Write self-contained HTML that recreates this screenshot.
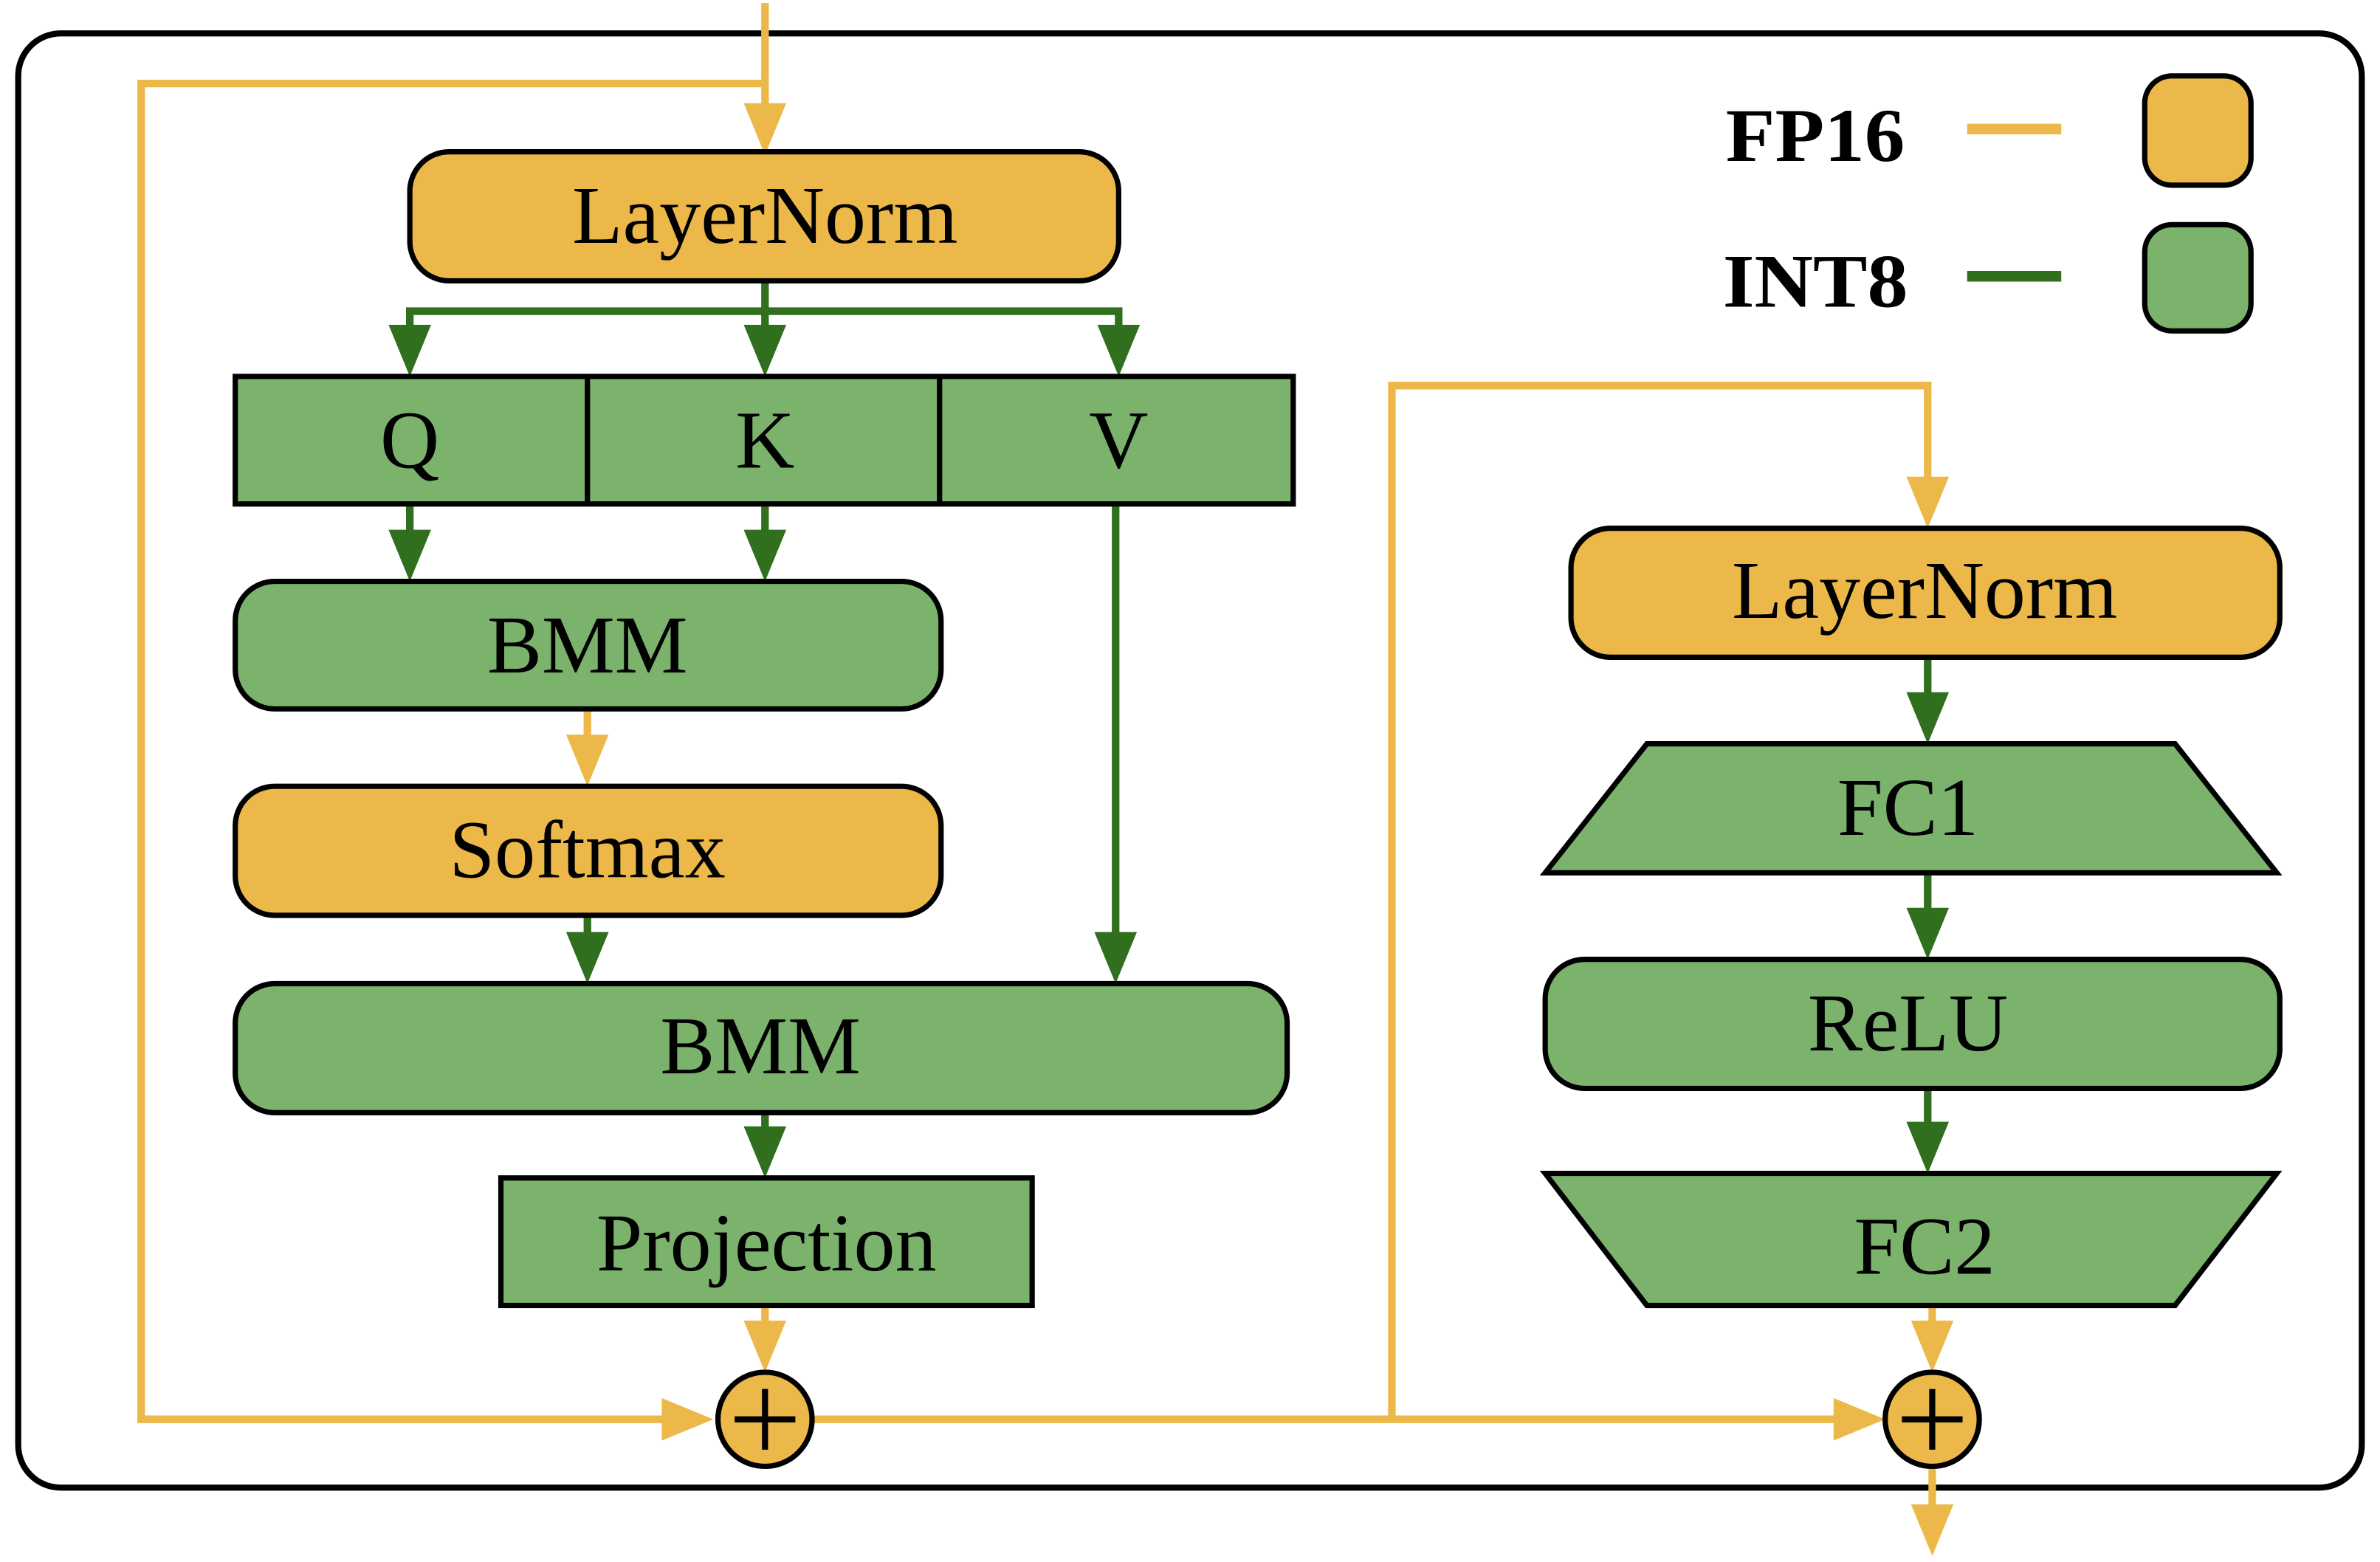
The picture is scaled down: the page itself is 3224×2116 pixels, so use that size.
<!DOCTYPE html>
<html><head><style>html,body{margin:0;padding:0;background:#fff}svg{display:block}</style></head>
<body>
<svg width="3224" height="2116" viewBox="0 0 1568 1029" preserveAspectRatio="none" xmlns="http://www.w3.org/2000/svg" font-family="Liberation Serif, serif">
<rect x="0" y="0" width="1568" height="1029" fill="#fff"/>
<rect x="12" y="22" width="1544" height="958" rx="28" fill="none" stroke="#000" stroke-width="4"/>
<g fill="none">
<g stroke="#EDB84A" stroke-width="5">
<polyline points="504,2 504,70"/>
<polyline points="504,55 93,55 93,935 438,935"/>
<polyline points="387,467 387,486"/>
<polyline points="535,935 1210,935"/>
<polyline points="917,935 917,254 1270,254 1270,316"/>
<polyline points="504,860 504,873"/>
<polyline points="1273,860 1273,873"/>
<polyline points="1273,966 1273,993"/>
<line x1="1296" y1="85" x2="1358" y2="85" stroke-width="7"/>
</g>
<g stroke="#2F6F1E" stroke-width="5">
<polyline points="504,185 504,216"/>
<polyline points="270,216 270,205 737,205 737,216"/>
<polyline points="270,332 270,351"/>
<polyline points="504,332 504,351"/>
<polyline points="387,603 387,616"/>
<polyline points="735,332 735,616"/>
<polyline points="504,733 504,744"/>
<polyline points="1270,433 1270,458"/>
<polyline points="1270,575 1270,600"/>
<polyline points="1270,717 1270,741"/>
<line x1="1296" y1="182" x2="1358" y2="182" stroke-width="7"/>
</g>
</g>
<g fill="#EDB84A">
<path d="M490,68 L518,68 L504,102 Z"/>
<path d="M373,484 L401,484 L387,518 Z"/>
<path d="M490,870 L518,870 L504,904 Z"/>
<path d="M1256,314 L1284,314 L1270,348 Z"/>
<path d="M1259,870 L1287,870 L1273,904 Z"/>
<path d="M1259,991 L1287,991 L1273,1025 Z"/>
<path d="M436,921 L436,949 L470,935 Z"/>
<path d="M1208,921 L1208,949 L1242,935 Z"/>
</g>
<g fill="#2F6F1E">
<path d="M256,214 L284,214 L270,248 Z"/>
<path d="M490,214 L518,214 L504,248 Z"/>
<path d="M723,214 L751,214 L737,248 Z"/>
<path d="M256,349 L284,349 L270,383 Z"/>
<path d="M490,349 L518,349 L504,383 Z"/>
<path d="M373,614 L401,614 L387,648 Z"/>
<path d="M721,614 L749,614 L735,648 Z"/>
<path d="M490,742 L518,742 L504,776 Z"/>
<path d="M1256,456 L1284,456 L1270,490 Z"/>
<path d="M1256,598 L1284,598 L1270,632 Z"/>
<path d="M1256,739 L1284,739 L1270,773 Z"/>
</g>
<g stroke="#000" stroke-width="3.5">
<rect x="270" y="100" width="467" height="85" rx="26" fill="#EDB84A"/>
<rect x="155" y="248" width="697" height="84" fill="#7BB36C"/>
<line x1="387" y1="248" x2="387" y2="332"/>
<line x1="619" y1="248" x2="619" y2="332"/>
<rect x="155" y="383" width="465" height="84" rx="26" fill="#7BB36C"/>
<rect x="155" y="518" width="465" height="85" rx="26" fill="#EDB84A"/>
<rect x="155" y="648" width="693" height="85" rx="26" fill="#7BB36C"/>
<rect x="330" y="776" width="350" height="84" fill="#7BB36C"/>
<circle cx="504" cy="935" r="31" fill="#EDB84A"/>
<rect x="1035" y="348" width="467" height="85" rx="26" fill="#EDB84A"/>
<path d="M1085,490 L1433,490 L1500,575 L1018,575 Z" fill="#7BB36C"/>
<rect x="1018" y="632" width="484" height="85" rx="26" fill="#7BB36C"/>
<path d="M1018,773 L1500,773 L1433,860 L1085,860 Z" fill="#7BB36C"/>
<circle cx="1273" cy="935" r="31" fill="#EDB84A"/>
<rect x="1413" y="50" width="70" height="72" rx="18" fill="#EDB84A"/>
<rect x="1413" y="148" width="70" height="70" rx="18" fill="#7BB36C"/>
</g>
<g stroke="#000" stroke-width="4">
<line x1="484" y1="935" x2="524" y2="935"/><line x1="504" y1="915" x2="504" y2="955"/>
<line x1="1253" y1="935" x2="1293" y2="935"/><line x1="1273" y1="915" x2="1273" y2="955"/>
</g>
<g font-size="54" text-anchor="middle" fill="#000">
<text x="504" y="160" textLength="254" lengthAdjust="spacingAndGlyphs">LayerNorm</text>
<text x="270" y="308">Q</text>
<text x="504" y="308">K</text>
<text x="737" y="308">V</text>
<text x="387" y="443">BMM</text>
<text x="387" y="578" textLength="182" lengthAdjust="spacingAndGlyphs">Softmax</text>
<text x="501" y="707">BMM</text>
<text x="505" y="837" textLength="224" lengthAdjust="spacingAndGlyphs">Projection</text>
<text x="1268" y="407" textLength="254" lengthAdjust="spacingAndGlyphs">LayerNorm</text>
<text x="1257" y="550">FC1</text>
<text x="1257" y="692">ReLU</text>
<text x="1268" y="839">FC2</text>
<text x="1196" y="106" font-weight="bold" font-size="50" textLength="118" lengthAdjust="spacingAndGlyphs">FP16</text>
<text x="1196" y="202" font-weight="bold" font-size="50" textLength="122" lengthAdjust="spacingAndGlyphs">INT8</text>
</g>
</svg>
</body></html>
